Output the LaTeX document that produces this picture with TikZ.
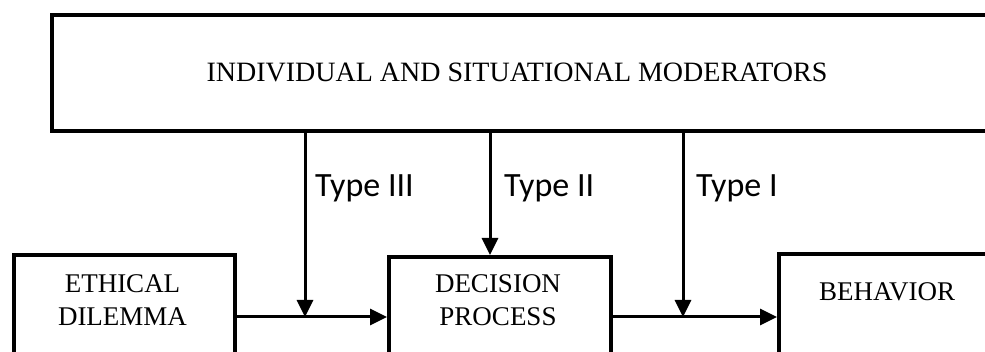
\documentclass[tikz,border=0pt]{standalone}
\usepackage{fontspec}
\setmainfont{Liberation Serif}
\newfontfamily\labelfont{Carlito}
\usetikzlibrary{arrows.meta}
\tikzset{
  box/.style={draw, line width=4pt, rectangle, anchor=north west, inner sep=0pt},
  boxtext/.style={font=\fontsize{27}{33}\selectfont, align=center, anchor=north, inner sep=0pt},
  flow/.style={line width=3pt, -{Triangle[length=17pt,width=16pt]}},
  typelabel/.style={font=\labelfont\fontsize{34}{40}\selectfont, anchor=base west, inner sep=0pt},
}

\begin{document}
\begin{tikzpicture}[x=1pt,y=-1pt]
\useasboundingbox (0,0) rectangle (985,352);
\clip (0,0) rectangle (985,352);
% boxes
\node[box, minimum width=960pt, minimum height=115.5pt] (moderators) at (50,13.5) {};
\node[boxtext, font=\fontsize{28}{33}\selectfont, anchor=base] (modtext) at (517,82) {INDIVIDUAL AND SITUATIONAL MODERATORS};
\node[box, minimum width=221pt, minimum height=150pt] (ethical) at (12,253) {};
\node[boxtext] (ethicaltext) at (122.5,274) {ETHICAL\\DILEMMA};
\node[box, minimum width=222pt, minimum height=150pt] (decision) at (387,255) {};
\node[boxtext] (decisiontext) at (498,274) {DECISION\\PROCESS};
\node[box, minimum width=300pt, minimum height=150pt] (behavior) at (777,252) {};
\node[boxtext] (behaviortext) at (887,282) {BEHAVIOR};
% moderator types
\coordinate (jthree) at (305,317);
\coordinate (jtwo) at (490,255);
\coordinate (jone) at (683,317);
\draw[flow] (ethical.east |- jthree) -- (decision.west |- jthree);
\draw[flow] (decision.east |- jone) -- (behavior.west |- jone);
\draw[flow] (moderators.south -| jthree) -- (jthree);
\draw[flow] (moderators.south -| jtwo) -- (decision.north -| jtwo);
\draw[flow] (moderators.south -| jone) -- (jone);
\node[typelabel] (typethree) at (315,197) {Type III};
\node[typelabel] (typetwo) at (504,197) {Type II};
\node[typelabel] (typeone) at (696,197) {Type I};
\end{tikzpicture}
\end{document}
